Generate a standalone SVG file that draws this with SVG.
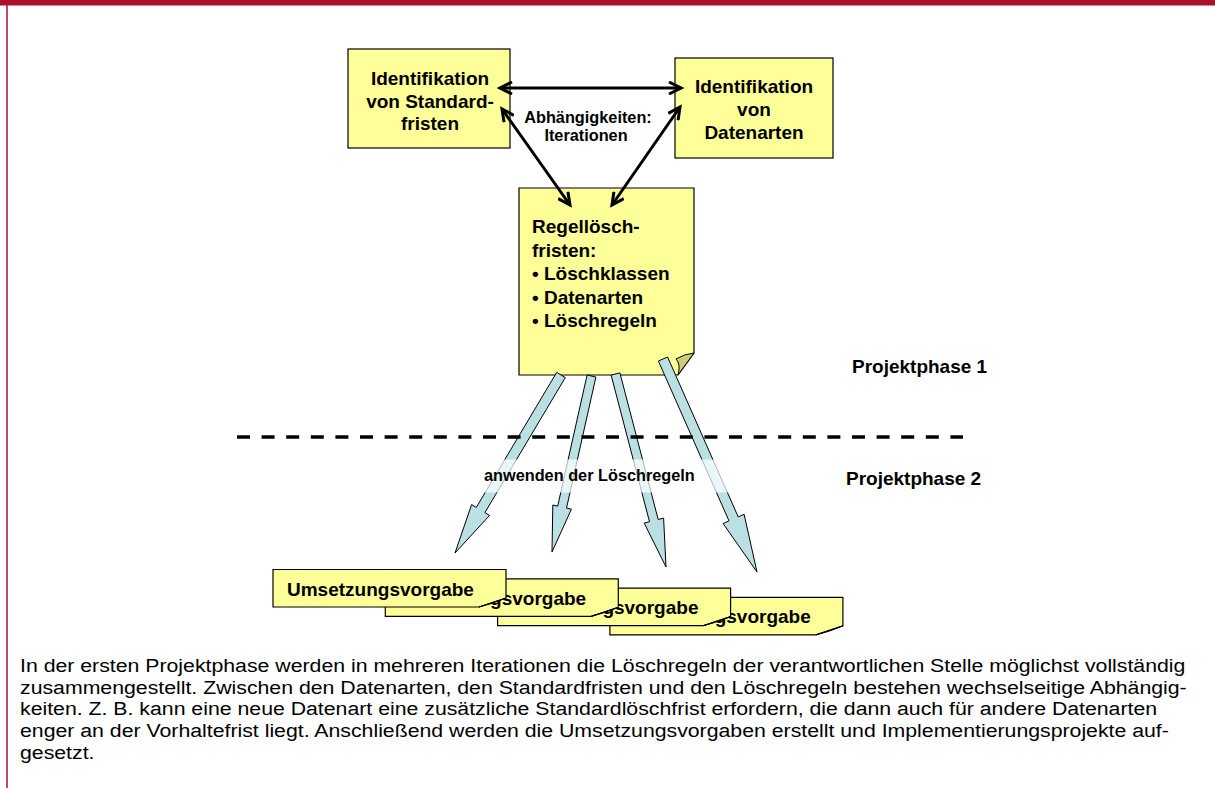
<svg xmlns="http://www.w3.org/2000/svg" width="1215" height="788" viewBox="0 0 1215 788">
<style>
  .box { fill: #FFFF99; stroke: #000; stroke-width: 1.2; }
  .fold { fill: #CFCB7C; stroke: #000; stroke-width: 1; stroke-linejoin: round; }
  .bt { font-family: "Liberation Sans", Arial, sans-serif; font-weight: bold; fill: #000; }
  .body { font-family: "Liberation Sans", Arial, sans-serif; font-size: 19px; fill: #000; }
  .dbl { stroke: #000; stroke-width: 3; fill: none; marker-start: url(#chev); marker-end: url(#chev); }
  .blk { fill: #BAE0E4; stroke: #000; stroke-width: 1; stroke-linejoin: miter; }
</style>
<defs>
  <marker id="chev" viewBox="0 0 16 14" refX="13" refY="7" markerWidth="16" markerHeight="14" markerUnits="userSpaceOnUse" orient="auto-start-reverse">
    <path d="M1,1 L13,7 L1,13" fill="none" stroke="#000" stroke-width="3"/>
  </marker>
</defs>
<rect x="0" y="0" width="1215" height="788" fill="#fff"/>
<rect x="0" y="0" width="1215" height="5.5" fill="#A8102E"/>
<line x1="7" y1="0" x2="7" y2="788" stroke="#A8102E" stroke-width="1.5"/>

<g id="node-standardfristen">
  <rect class="box" x="348" y="49" width="162" height="99"/>
  <text class="bt" font-size="19" text-anchor="middle" x="430" y="85">Identifikation</text>
  <text class="bt" font-size="19" text-anchor="middle" x="430" y="107.5">von Standard-</text>
  <text class="bt" font-size="19" text-anchor="middle" x="430" y="130">fristen</text>
</g>
<g id="node-datenarten">
  <rect class="box" x="675" y="58" width="158" height="100"/>
  <text class="bt" font-size="19" text-anchor="middle" x="754" y="93">Identifikation</text>
  <text class="bt" font-size="19" text-anchor="middle" x="754" y="116">von</text>
  <text class="bt" font-size="19" text-anchor="middle" x="754" y="139">Datenarten</text>
</g>
<g id="node-regelloeschfristen">
  <path class="box" d="M519,188 H694 V353 L678,375 H519 Z"/>
  <path class="fold" d="M694,353 Q684,354 676,359 Q681,364 678,375 Z"/>
  <text class="bt" font-size="19" x="532" y="233">Regellösch-</text>
  <text class="bt" font-size="19" x="532" y="257">fristen:</text>
  <text class="bt" font-size="19" x="532" y="280">• Löschklassen</text>
  <text class="bt" font-size="19" x="532" y="304">• Datenarten</text>
  <text class="bt" font-size="19" x="532" y="327">• Löschregeln</text>
</g>

<g id="node-umsetzung-4">
  <path class="box" d="M609.9,597.4 H842.9 V625.9 L815.9,634.9 H609.9 Z"/>
  <path class="fold" d="M842.9,625.9 L815.9,634.9 L829,631.2 Z"/>
  <text class="bt" font-size="19" x="623.9" y="623.4">Umsetzungsvorgabe</text>
</g>
<g id="node-umsetzung-3">
  <path class="box" d="M497.6,588.1 H730.6 V616.6 L703.6,625.6 H497.6 Z"/>
  <path class="fold" d="M730.6,616.6 L703.6,625.6 L716.7,621.9 Z"/>
  <text class="bt" font-size="19" x="511.6" y="614.1">Umsetzungsvorgabe</text>
</g>
<g id="node-umsetzung-2">
  <path class="box" d="M385.3,578.8 H618.3 V607.3 L591.3,616.3 H385.3 Z"/>
  <path class="fold" d="M618.3,607.3 L591.3,616.3 L604.4,612.6 Z"/>
  <text class="bt" font-size="19" x="399.3" y="604.8">Umsetzungsvorgabe</text>
</g>
<g id="node-umsetzung-1">
  <path class="box" d="M273,569.5 H506 V598 L479,607 H273 Z"/>
  <path class="fold" d="M506,598 L479,607 L492.1,603.3 Z"/>
  <text class="bt" font-size="19" x="287" y="595.5">Umsetzungsvorgabe</text>
</g>

<g id="connectors">
  <line class="dbl" x1="500" y1="88" x2="681" y2="88"/>
  <line class="dbl" x1="502" y1="109" x2="570" y2="205"/>
  <line class="dbl" x1="680" y1="107" x2="612" y2="205"/>
  <polygon class="blk" points="556.7,372.4 476.3,507.4 471.6,504.6 455,553 489.6,515.4 484.9,512.6 565.3,377.6"/>
  <polygon class="blk" points="587.1,375.0 557.7,506.1 552.8,505.0 552,552 571.4,509.2 566.5,508.1 595.9,377.0"/>
  <polygon class="blk" points="611.1,375.1 649.5,521.7 644.2,523.1 666,567 663.6,518.1 658.2,519.5 619.9,372.9"/>
  <polygon class="blk" points="658.4,361.0 729.0,520.9 723.1,523.5 757,572 744.1,514.3 738.2,516.9 667.6,357.0"/>
</g>

<g id="label-abhaengigkeiten">
  <text class="bt" font-size="16.3" text-anchor="middle" x="588" y="122.5">Abhängigkeiten:</text>
  <text class="bt" font-size="16.3" text-anchor="middle" x="586" y="141">Iterationen</text>
</g>

<line id="phase-divider" x1="237" y1="437" x2="963" y2="437" stroke="#000" stroke-width="3.5" stroke-dasharray="13 11.6"/>

<g id="label-anwenden">
  <rect x="478" y="459.5" width="256" height="33" fill="#fff" fill-opacity="0.7"/>
  <text class="bt" font-size="16.3" x="484" y="481">anwenden der Löschregeln</text>
</g>

<g id="label-phase1">
  <text class="bt" font-size="19" x="852" y="373">Projektphase 1</text>
</g>
<g id="label-phase2">
  <text class="bt" font-size="19" x="846" y="485">Projektphase 2</text>
</g>

<g id="description" transform="translate(20,0) scale(1.12,1)">
  <text class="body" x="0" y="672">In der ersten Projektphase werden in mehreren Iterationen die Löschregeln der verantwortlichen Stelle möglichst vollständig</text>
  <text class="body" x="0" y="693.7">zusammengestellt. Zwischen den Datenarten, den Standardfristen und den Löschregeln bestehen wechselseitige Abhängig-</text>
  <text class="body" x="0" y="715.4">keiten. Z. B. kann eine neue Datenart eine zusätzliche Standardlöschfrist erfordern, die dann auch für andere Datenarten</text>
  <text class="body" x="0" y="737.1">enger an der Vorhaltefrist liegt. Anschließend werden die Umsetzungsvorgaben erstellt und Implementierungsprojekte auf-</text>
  <text class="body" x="0" y="758.8">gesetzt.</text>
</g>
</svg>
